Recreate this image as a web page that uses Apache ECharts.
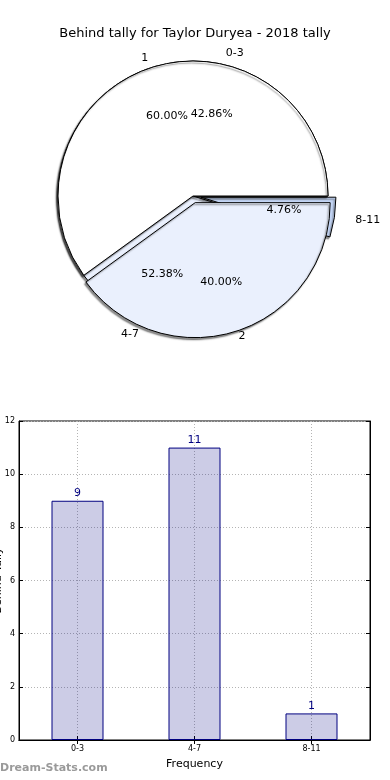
<!DOCTYPE html>
<html><head><meta charset="utf-8">
<script src="https://cdn.jsdelivr.net/npm/echarts@6/dist/echarts.min.js"></script>
<style>html,body{margin:0;padding:0;background:#fff}#c{width:390px;height:780px}</style>
</head><body><div id="c"></div>
<script>
// ---- data ----
const chartTitle = 'Behind tally for Taylor Duryea - 2018 tally';
const periodLabels = ['1', '2'];
const periodValues = [3, 2];
const rangeLabels = ['0-3', '4-7', '8-11'];
const rangeValues = [9, 11, 1];
const yAxisMin = 0, yAxisMax = 12, yAxisStep = 2;
const xAxisName = 'Frequency';
const yAxisName = 'Behind Tally';
const watermark = 'Dream-Stats.com';

// ---- style ----
const FONT = 'DejaVu Sans';
const C = [193, 196], R = 135;
const rangeColors = ['#ffffff', '#eaf0fd', '#c5d7f7'];
const periodColors = ['#ffffff', '#eaf0fd'];
const rangeExplode = [false, false, true];
const periodExplode = [false, true];
const rangeLabelLen = [12, 13, 21];
const periodLabelLen = [10, 5];
const shadow = {shadowColor: 'rgba(0,0,0,0.45)', shadowBlur: 1.5, shadowOffsetX: -1.5, shadowOffsetY: 2};

function pctFmt(p) { return p.percent.toFixed(2) + '%'; }

function pieSeries(names, values, colors, explode, lens, offset) {
  return {
    type: 'pie', center: C, radius: [0, R], startAngle: 0, clockwise: false,
    avoidLabelOverlap: false, selectedMode: 'multiple', selectedOffset: offset,
    animation: false, emphasis: {disabled: true}, silent: true,
    itemStyle: Object.assign({borderColor: '#000', borderWidth: 1}, shadow),
    label: {show: true, position: 'outside', formatter: '{b}', fontFamily: FONT, fontSize: 11, color: '#000', distanceToLabelLine: 0},
    labelLine: {show: false, length2: 0},
    data: names.map((n, i) => ({name: n, value: values[i], selected: explode[i],
      itemStyle: {color: colors[i]}, labelLine: {show: false, length: lens[i], length2: 0}}))
  };
}
function pctSeries(names, values, explode, offset) {
  return {
    type: 'pie', center: C, radius: [0, R * 1.2], startAngle: 0, clockwise: false,
    avoidLabelOverlap: false, selectedMode: 'multiple', selectedOffset: offset,
    animation: false, emphasis: {disabled: true}, silent: true,
    itemStyle: {color: 'rgba(0,0,0,0)', borderWidth: 0},
    label: {show: true, position: 'inside', formatter: pctFmt, fontFamily: FONT, fontSize: 11, color: '#000'},
    labelLine: {show: false},
    data: names.map((n, i) => ({name: n, value: values[i], selected: explode[i]}))
  };
}

const chart = echarts.init(document.getElementById('c'), null, {renderer: 'canvas'});
chart.setOption({
  animation: false,
  backgroundColor: '#fff',
  textStyle: {fontFamily: FONT},
  title: {text: chartTitle, left: 'center', top: 22,
    textStyle: {fontFamily: FONT, fontSize: 13, fontWeight: 'normal', color: '#000'}},
  grid: {left: 19, right: 20, top: 421, bottom: 40, show: true, borderColor: '#000', borderWidth: 1, containLabel: false, outerBoundsMode: 'none'},
  xAxis: [{
    type: 'category', data: rangeLabels, position: 'bottom',
    axisLine: {show: true, lineStyle: {color: '#000'}},
    axisTick: {show: true, inside: true, length: 4, alignWithLabel: true, lineStyle: {color: '#000'}},
    axisLabel: {fontFamily: FONT, fontSize: 8, color: '#000', margin: 5},
    splitLine: {show: true, alignWithLabel: true, lineStyle: {type: [1, 2], color: '#b4b4b4', width: 1}},
    name: xAxisName, nameLocation: 'middle', nameGap: 19, nameMoveOverlap: false,
    nameTextStyle: {fontFamily: FONT, fontSize: 11, color: '#000'}
  }, {
    type: 'category', data: rangeLabels, position: 'top',
    axisLine: {show: true, lineStyle: {color: '#000'}},
    axisTick: {show: true, inside: true, length: 4, alignWithLabel: true, lineStyle: {color: '#000'}},
    axisLabel: {show: false}, splitLine: {show: false}
  }],
  yAxis: [{
    type: 'value', min: yAxisMin, max: yAxisMax, interval: yAxisStep, position: 'left',
    axisLine: {show: true, lineStyle: {color: '#000'}},
    axisTick: {show: true, inside: true, length: 4, lineStyle: {color: '#000'}},
    axisLabel: {fontFamily: FONT, fontSize: 8, color: '#000', margin: 4},
    splitLine: {show: true, lineStyle: {type: [1, 2], color: '#b4b4b4', width: 1}},
    name: yAxisName, nameLocation: 'middle', nameGap: 15, nameRotate: 90, nameMoveOverlap: false,
    nameTextStyle: {fontFamily: FONT, fontSize: 11, color: '#000'}
  }, {
    type: 'value', min: yAxisMin, max: yAxisMax, interval: yAxisStep, position: 'right',
    axisLine: {show: true, lineStyle: {color: '#000'}},
    axisTick: {show: true, inside: true, length: 4, lineStyle: {color: '#000'}},
    axisLabel: {show: false}, splitLine: {show: false}
  }],
  graphic: [{type: 'text', left: 0, top: 763, silent: true,
    style: {text: watermark, fill: '#9a9a9a', font: 'bold 11px "DejaVu Sans"'}}],
  series: [
    pieSeries(rangeLabels, rangeValues, rangeColors, rangeExplode, rangeLabelLen, 8),
    pieSeries(periodLabels, periodValues, periodColors, periodExplode, periodLabelLen, 7),
    pctSeries(rangeLabels, rangeValues, rangeExplode, 8),
    pctSeries(periodLabels, periodValues, periodExplode, 7),
    {
      type: 'bar', xAxisIndex: 0, yAxisIndex: 0, data: rangeValues, barWidth: 52,
      itemStyle: {color: 'rgba(0,0,128,0.2)', borderColor: '#000080', borderWidth: 1},
      label: {show: true, position: 'top', distance: 2, color: '#000080', fontFamily: FONT, fontSize: 11},
      emphasis: {disabled: true}, silent: true
    }
  ]
});
</script></body></html>
